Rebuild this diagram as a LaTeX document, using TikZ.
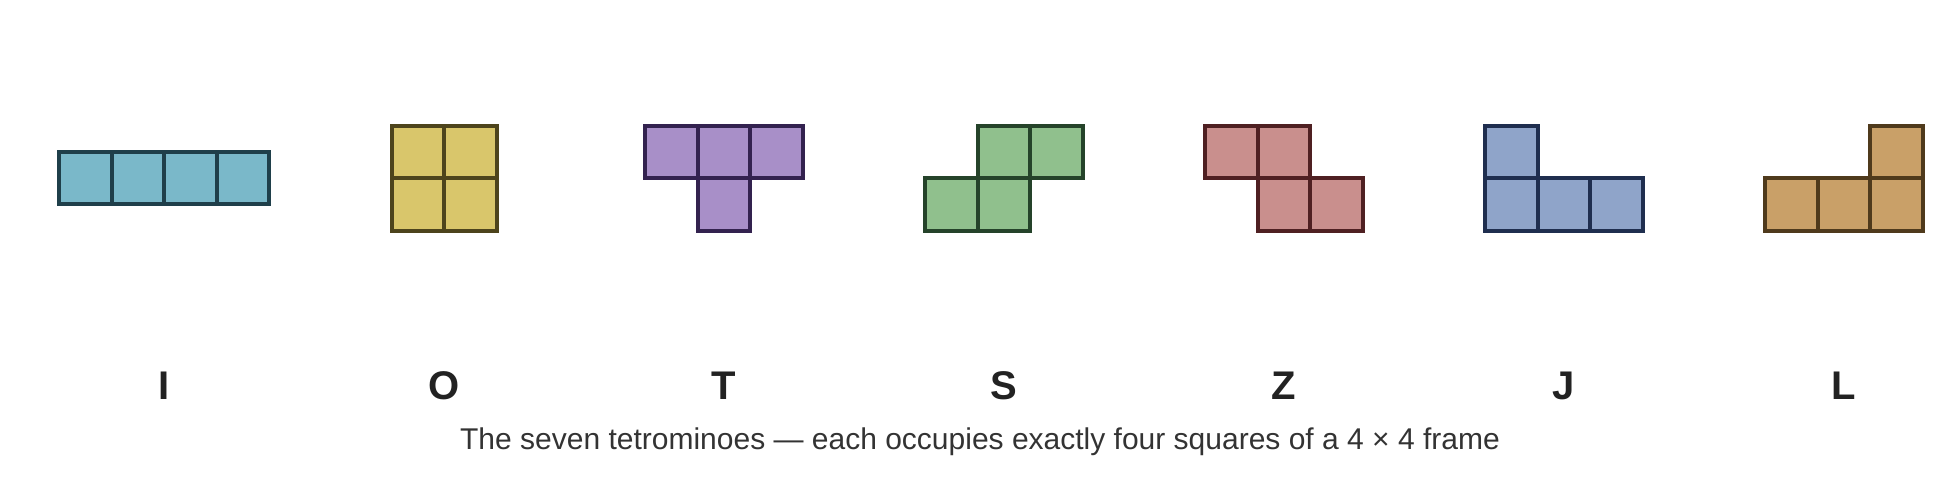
\documentclass[tikz,border=0pt]{standalone}
\usepackage{fontspec}
\setmainfont{Liberation Sans}
\definecolor{ifill}{HTML}{7AB8C9}\definecolor{iline}{HTML}{1F3F4A}
\definecolor{ofill}{HTML}{D9C66B}\definecolor{oline}{HTML}{4D441C}
\definecolor{tfill}{HTML}{A88FC8}\definecolor{tline}{HTML}{33224F}
\definecolor{sfill}{HTML}{90C08D}\definecolor{sline}{HTML}{25432A}
\definecolor{zfill}{HTML}{C98F8D}\definecolor{zline}{HTML}{4F2022}
\definecolor{jfill}{HTML}{8FA4C9}\definecolor{jline}{HTML}{1F2E4F}
\definecolor{lfill}{HTML}{C9A068}\definecolor{lline}{HTML}{4F3A1C}
\definecolor{labtext}{HTML}{222222}
\begin{document}
\begin{tikzpicture}[x=1pt,y=-1pt,
    cell/.style={rectangle,minimum size=52.5pt,inner sep=0pt,line width=4pt}]

      \useasboundingbox (0,0) rectangle (1960,480);

      \begin{scope}[every node/.style={cell,fill=ifill,draw=iline}]
        \node (i1) at (85.25,178)  {};
        \node (i2) at (137.75,178) {};
        \node (i3) at (190.25,178) {};
        \node (i4) at (242.75,178) {};
      \end{scope}

      \begin{scope}[every node/.style={cell,fill=ofill,draw=oline}]
        \node (o1) at (417.75,151.75) {};
        \node (o2) at (470.25,151.75) {};
        \node (o3) at (417.75,204.25) {};
        \node (o4) at (470.25,204.25) {};
      \end{scope}

      \begin{scope}[every node/.style={cell,fill=tfill,draw=tline}]
        \node (t1) at (671.5,151.75) {};
        \node (t2) at (724,151.75)   {};
        \node (t3) at (776.5,151.75) {};
        \node (t4) at (724,204.25)   {};
      \end{scope}

      \begin{scope}[every node/.style={cell,fill=sfill,draw=sline}]
        \node (s1) at (1004,151.75)   {};
        \node (s2) at (1056.5,151.75) {};
        \node (s3) at (951.5,204.25)  {};
        \node (s4) at (1004,204.25)   {};
      \end{scope}

      \begin{scope}[every node/.style={cell,fill=zfill,draw=zline}]
        \node (z1) at (1231.5,151.75) {};
        \node (z2) at (1284,151.75)   {};
        \node (z3) at (1284,204.25)   {};
        \node (z4) at (1336.5,204.25) {};
      \end{scope}

      \begin{scope}[every node/.style={cell,fill=jfill,draw=jline}]
        \node (j1) at (1511.5,151.75) {};
        \node (j2) at (1511.5,204.25) {};
        \node (j3) at (1564,204.25)   {};
        \node (j4) at (1616.5,204.25) {};
      \end{scope}

      \begin{scope}[every node/.style={cell,fill=lfill,draw=lline}]
        \node (l1) at (1896.5,151.75) {};
        \node (l2) at (1791.5,204.25) {};
        \node (l3) at (1844,204.25)   {};
        \node (l4) at (1896.5,204.25) {};
      \end{scope}

      \begin{scope}[every node/.style={anchor=base,text=labtext,font=\fontsize{40}{44}\selectfont\bfseries}]
        \node (labI) at (164,399.5)  {I};
        \node (labO) at (444,399.5)  {O};
        \node (labT) at (724,399.5)  {T};
        \node (labS) at (1004,399.5) {S};
        \node (labZ) at (1284,399.5) {Z};
        \node (labJ) at (1564,399.5) {J};
        \node (labL) at (1844,399.5) {L};
      \end{scope}

      \node[anchor=base,text=black!80,font=\fontsize{30}{34}\selectfont] (caption) at (980,449)
        {The seven tetrominoes — each occupies exactly four squares of a 4 × 4 frame};

    \end{tikzpicture}
\end{document}
